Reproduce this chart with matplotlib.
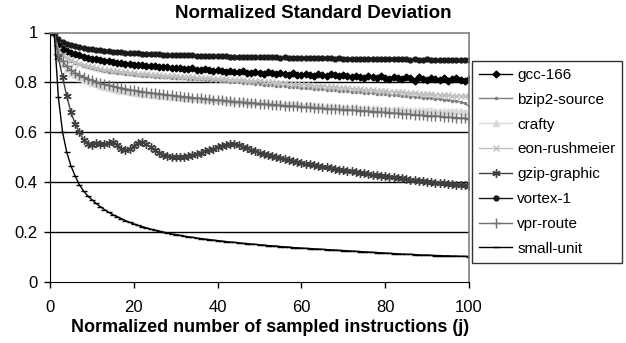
import matplotlib
matplotlib.use('Agg')
from matplotlib import pyplot as plt

plt.rcParams['font.family'] = ['Liberation Sans', 'DejaVu Sans']

x = list(range(1, 101))

gcc_166 = [1.000, 0.950, 0.935, 0.925, 0.918, 0.912, 0.908, 0.903, 0.899, 0.895,
           0.892, 0.889, 0.886, 0.884, 0.881, 0.879, 0.877, 0.875, 0.873, 0.871,
           0.870, 0.868, 0.867, 0.865, 0.864, 0.862, 0.861, 0.860, 0.858, 0.857,
           0.858, 0.855, 0.853, 0.856, 0.851, 0.849, 0.852, 0.848, 0.846, 0.850,
           0.845, 0.843, 0.847, 0.842, 0.840, 0.844, 0.839, 0.837, 0.842, 0.838,
           0.835, 0.840, 0.836, 0.832, 0.838, 0.834, 0.830, 0.836, 0.831, 0.829,
           0.834, 0.828, 0.826, 0.833, 0.829, 0.825, 0.832, 0.828, 0.824, 0.830,
           0.825, 0.820, 0.827, 0.823, 0.818, 0.825, 0.820, 0.816, 0.824, 0.819,
           0.815, 0.822, 0.817, 0.813, 0.821, 0.816, 0.806, 0.820, 0.814, 0.810,
           0.819, 0.813, 0.809, 0.817, 0.805, 0.812, 0.818, 0.811, 0.807, 0.813]

bzip2_source = [1.000, 0.935, 0.912, 0.898, 0.887, 0.879, 0.872, 0.866, 0.861, 0.857,
                0.853, 0.849, 0.846, 0.843, 0.840, 0.838, 0.836, 0.834, 0.832, 0.830,
                0.829, 0.827, 0.826, 0.824, 0.823, 0.822, 0.821, 0.820, 0.819, 0.818,
                0.817, 0.816, 0.815, 0.814, 0.813, 0.812, 0.811, 0.810, 0.809, 0.808,
                0.806, 0.805, 0.803, 0.802, 0.800, 0.799, 0.797, 0.796, 0.794, 0.793,
                0.791, 0.790, 0.788, 0.787, 0.785, 0.784, 0.782, 0.781, 0.780, 0.778,
                0.777, 0.776, 0.774, 0.773, 0.772, 0.770, 0.769, 0.768, 0.766, 0.765,
                0.764, 0.762, 0.761, 0.760, 0.758, 0.757, 0.756, 0.754, 0.753, 0.752,
                0.750, 0.749, 0.748, 0.746, 0.745, 0.743, 0.742, 0.740, 0.739, 0.737,
                0.736, 0.734, 0.732, 0.731, 0.729, 0.727, 0.725, 0.722, 0.716, 0.705]

crafty = [1.000, 0.900, 0.872, 0.853, 0.839, 0.828, 0.819, 0.811, 0.804, 0.798,
          0.792, 0.787, 0.782, 0.778, 0.774, 0.770, 0.767, 0.764, 0.761, 0.758,
          0.756, 0.754, 0.752, 0.750, 0.748, 0.747, 0.745, 0.744, 0.742, 0.741,
          0.740, 0.739, 0.738, 0.737, 0.736, 0.735, 0.734, 0.733, 0.732, 0.731,
          0.730, 0.729, 0.728, 0.727, 0.726, 0.725, 0.724, 0.723, 0.722, 0.721,
          0.720, 0.719, 0.718, 0.717, 0.716, 0.715, 0.714, 0.713, 0.712, 0.711,
          0.710, 0.709, 0.708, 0.707, 0.706, 0.706, 0.705, 0.704, 0.703, 0.702,
          0.701, 0.701, 0.700, 0.699, 0.698, 0.698, 0.697, 0.696, 0.695, 0.695,
          0.694, 0.693, 0.693, 0.692, 0.691, 0.691, 0.690, 0.689, 0.689, 0.688,
          0.688, 0.687, 0.686, 0.686, 0.685, 0.685, 0.684, 0.684, 0.683, 0.683]

eon_rushmeier = [1.000, 0.930, 0.910, 0.897, 0.888, 0.880, 0.874, 0.869, 0.864, 0.860,
                 0.857, 0.854, 0.851, 0.848, 0.846, 0.844, 0.842, 0.840, 0.838, 0.836,
                 0.835, 0.833, 0.832, 0.831, 0.829, 0.828, 0.827, 0.826, 0.825, 0.824,
                 0.823, 0.822, 0.821, 0.820, 0.819, 0.818, 0.817, 0.816, 0.815, 0.814,
                 0.813, 0.812, 0.811, 0.810, 0.809, 0.808, 0.807, 0.806, 0.805, 0.804,
                 0.803, 0.802, 0.800, 0.799, 0.798, 0.796, 0.795, 0.794, 0.792, 0.791,
                 0.790, 0.788, 0.787, 0.786, 0.784, 0.783, 0.782, 0.780, 0.779, 0.778,
                 0.776, 0.775, 0.774, 0.772, 0.771, 0.770, 0.768, 0.767, 0.766, 0.765,
                 0.763, 0.762, 0.761, 0.760, 0.758, 0.757, 0.756, 0.755, 0.754, 0.753,
                 0.752, 0.751, 0.750, 0.749, 0.748, 0.747, 0.746, 0.746, 0.745, 0.745]

gzip_graphic = [1.000, 0.900, 0.820, 0.745, 0.680, 0.635, 0.600, 0.570, 0.555, 0.550,
                0.558, 0.555, 0.552, 0.557, 0.563, 0.550, 0.535, 0.528, 0.532, 0.545,
                0.558, 0.562, 0.552, 0.540, 0.528, 0.518, 0.510, 0.505, 0.502, 0.500,
                0.500, 0.502, 0.505, 0.509, 0.514, 0.519, 0.524, 0.530, 0.535, 0.540,
                0.545, 0.549, 0.552, 0.553, 0.550, 0.543, 0.536, 0.530, 0.525, 0.519,
                0.514, 0.509, 0.505, 0.501, 0.497, 0.493, 0.489, 0.485, 0.481, 0.477,
                0.474, 0.471, 0.468, 0.465, 0.462, 0.459, 0.456, 0.453, 0.450, 0.448,
                0.445, 0.443, 0.440, 0.438, 0.435, 0.433, 0.430, 0.428, 0.426, 0.424,
                0.422, 0.419, 0.417, 0.415, 0.413, 0.410, 0.408, 0.406, 0.404, 0.402,
                0.400, 0.398, 0.396, 0.395, 0.393, 0.391, 0.390, 0.388, 0.387, 0.385]

vortex_1 = [1.000, 0.975, 0.962, 0.955, 0.950, 0.945, 0.941, 0.938, 0.935, 0.933,
            0.930, 0.928, 0.926, 0.925, 0.923, 0.921, 0.920, 0.919, 0.918, 0.917,
            0.916, 0.915, 0.915, 0.914, 0.912, 0.912, 0.911, 0.911, 0.910, 0.910,
            0.909, 0.909, 0.908, 0.908, 0.907, 0.907, 0.906, 0.906, 0.905, 0.905,
            0.904, 0.904, 0.903, 0.903, 0.903, 0.902, 0.902, 0.902, 0.901, 0.902,
            0.901, 0.900, 0.901, 0.900, 0.899, 0.900, 0.899, 0.898, 0.899, 0.898,
            0.897, 0.898, 0.897, 0.896, 0.897, 0.896, 0.896, 0.895, 0.896, 0.895,
            0.895, 0.894, 0.895, 0.894, 0.894, 0.893, 0.894, 0.893, 0.893, 0.892,
            0.893, 0.892, 0.892, 0.893, 0.892, 0.891, 0.892, 0.891, 0.891, 0.892,
            0.891, 0.890, 0.891, 0.890, 0.890, 0.891, 0.890, 0.890, 0.889, 0.890]

vpr_route = [1.000, 0.915, 0.885, 0.865, 0.850, 0.838, 0.829, 0.821, 0.814, 0.808,
             0.802, 0.797, 0.792, 0.788, 0.784, 0.780, 0.777, 0.774, 0.771, 0.768,
             0.765, 0.763, 0.760, 0.758, 0.756, 0.754, 0.752, 0.750, 0.748, 0.746,
             0.744, 0.742, 0.741, 0.739, 0.737, 0.736, 0.734, 0.732, 0.731, 0.729,
             0.728, 0.726, 0.725, 0.723, 0.722, 0.720, 0.719, 0.718, 0.716, 0.715,
             0.714, 0.712, 0.711, 0.710, 0.708, 0.707, 0.706, 0.705, 0.704, 0.702,
             0.701, 0.700, 0.699, 0.698, 0.697, 0.695, 0.694, 0.693, 0.692, 0.691,
             0.690, 0.689, 0.688, 0.687, 0.686, 0.685, 0.683, 0.682, 0.681, 0.680,
             0.679, 0.677, 0.676, 0.675, 0.673, 0.672, 0.670, 0.669, 0.668, 0.667,
             0.666, 0.665, 0.664, 0.662, 0.661, 0.660, 0.659, 0.658, 0.657, 0.655]

small_unit = [1.000, 0.740, 0.600, 0.520, 0.465, 0.425, 0.390, 0.365, 0.345, 0.330,
              0.315, 0.302, 0.290, 0.280, 0.270, 0.262, 0.254, 0.246, 0.239, 0.233,
              0.227, 0.222, 0.217, 0.212, 0.208, 0.204, 0.200, 0.196, 0.193, 0.190,
              0.187, 0.184, 0.181, 0.179, 0.176, 0.174, 0.172, 0.170, 0.168, 0.166,
              0.164, 0.162, 0.160, 0.159, 0.157, 0.155, 0.154, 0.152, 0.151, 0.149,
              0.148, 0.146, 0.145, 0.144, 0.142, 0.141, 0.140, 0.138, 0.137, 0.136,
              0.135, 0.134, 0.133, 0.132, 0.131, 0.130, 0.129, 0.128, 0.127, 0.126,
              0.125, 0.124, 0.123, 0.122, 0.121, 0.120, 0.119, 0.118, 0.117, 0.116,
              0.115, 0.114, 0.113, 0.112, 0.111, 0.111, 0.110, 0.109, 0.108, 0.108,
              0.107, 0.106, 0.106, 0.105, 0.105, 0.104, 0.104, 0.103, 0.103, 0.102]

series = [
    ('gcc-166', gcc_166, '#000000', 'D', 3.5),
    ('bzip2-source', bzip2_source, '#7f7f7f', '.', 3),
    ('crafty', crafty, '#d9d9d9', '^', 4),
    ('eon-rushmeier', eon_rushmeier, '#bfbfbf', 'x', 5),
    ('gzip-graphic', gzip_graphic, '#404040', (6, 2, 0), 6),
    ('vortex-1', vortex_1, '#1a1a1a', 'o', 3.5),
    ('vpr-route', vpr_route, '#707070', '+', 7),
    ('small-unit', small_unit, '#000000', '_', 5),
]

fig = plt.figure(figsize=(6.26, 3.43), dpi=100)
ax = fig.add_axes([50 / 626, 1 - 282 / 343, 419 / 626, 249.5 / 343])

for name, vals, col, mk, ms in series:
    ax.plot(x, vals, color=col, marker=mk, markersize=ms, linewidth=1,
            markeredgewidth=1, label=name)

ax.set_xlim(0, 100)
ax.set_ylim(0, 1)
ax.set_xticks([0, 20, 40, 60, 80, 100])
ax.set_yticks([0, 0.2, 0.4, 0.6, 0.8, 1])
ax.set_yticklabels(['0', '0.2', '0.4', '0.6', '0.8', '1'])
ax.tick_params(direction='out', length=4, width=1, labelsize=12, color='black')
ax.tick_params(axis='x', pad=9)
ax.tick_params(axis='y', pad=5)

# horizontal gridlines (not at the frame edges)
for yv in [0.2, 0.4, 0.6, 0.8]:
    ax.axhline(yv, color='black', linewidth=1, zorder=0)

for s in ['left', 'bottom']:
    ax.spines[s].set_color('black')
for s in ['top', 'right']:
    ax.spines[s].set_color('#808080')
    ax.spines[s].set_linewidth(1.2)

# title is centred on the whole chart, x label a bit right of the plot centre
fig.text(0.5, 1 - 13 / 343, 'Normalized Standard Deviation', fontsize=13.5,
         fontweight='bold', ha='center', va='center')
fig.text(270 / 626, 1 - 328 / 343, 'Normalized number of sampled instructions (j)',
         fontsize=13, fontweight='bold', ha='center', va='center')

leg = fig.legend(loc='upper left', bbox_to_anchor=(472 / 626, 1 - 61 / 343),
                 fontsize=11, frameon=True, fancybox=False, edgecolor='black',
                 handlelength=2.2, labelspacing=0.71, borderpad=0.45,
                 handletextpad=0.3, borderaxespad=0)
leg.get_frame().set_linewidth(1)

plt.savefig('out.png', dpi=100)
